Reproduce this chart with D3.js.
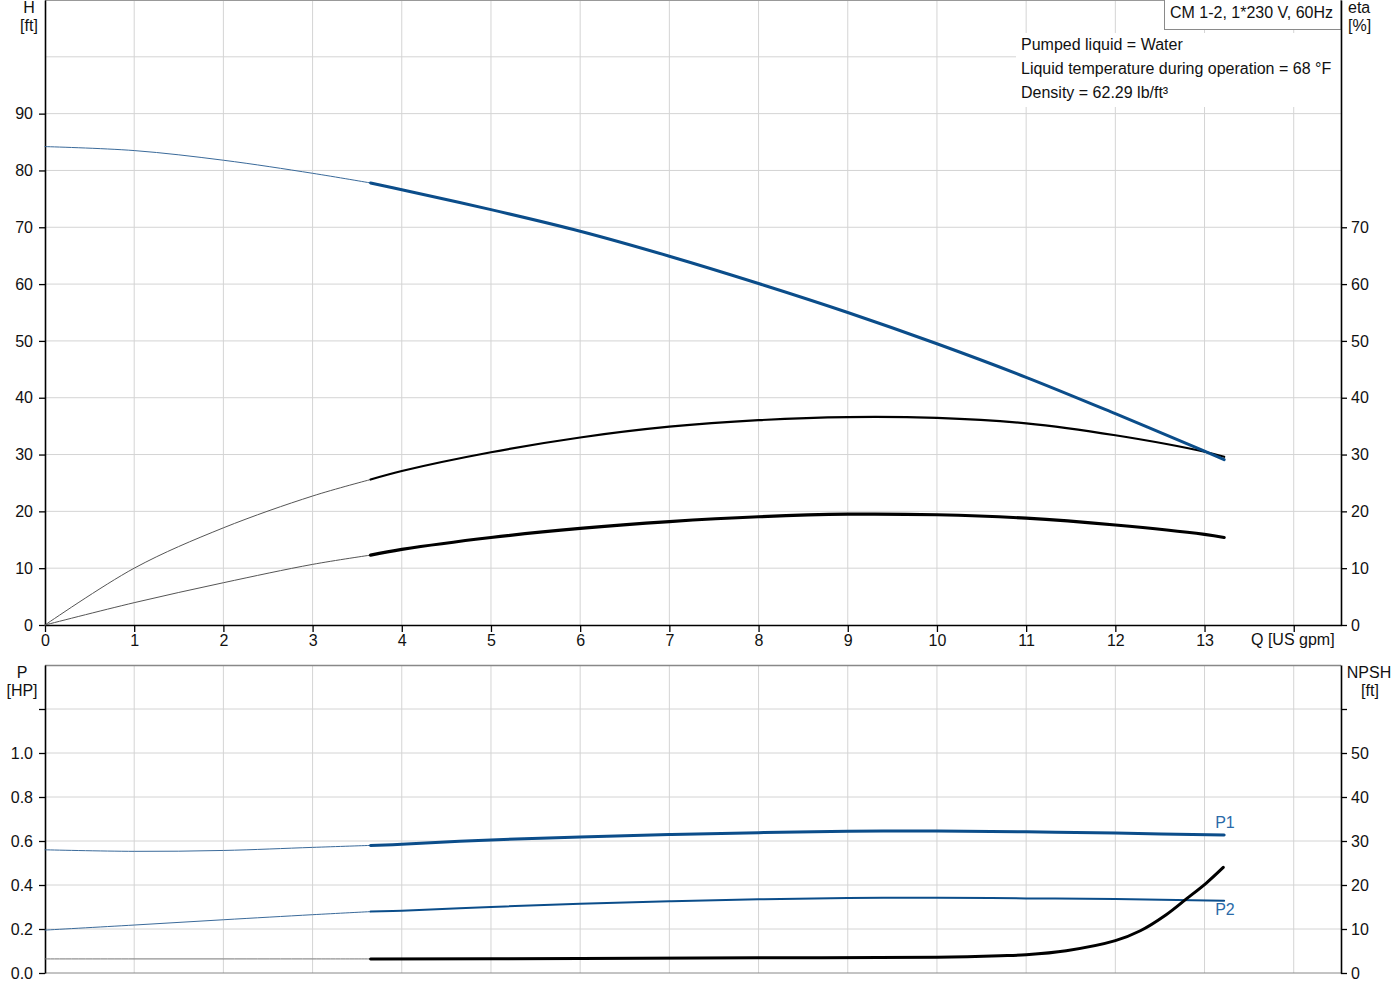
<!DOCTYPE html>
<html>
<head>
<meta charset="utf-8">
<script src="https://cdn.jsdelivr.net/npm/d3@7"></script>
<style>
  html, body { margin: 0; padding: 0; background: #fff; }
  svg { display: block; font-family: "Liberation Sans", Arial, sans-serif; }
</style>
</head>
<body>
<svg id="chart" width="1400" height="1000"></svg>
<script>
// ---------------- DATA ----------------
const qTicks = [0,1,2,3,4,5,6,7,8,9,10,11,12,13];
const qGrid = [1,2,3,4,5,6,7,8,9,10,11,12,13,14];
const hTicks = [0,10,20,30,40,50,60,70,80,90];
const hGrid = [10,20,30,40,50,60,70,80,90,100];
const etaTicks = [0,10,20,30,40,50,60,70];
const pTicks = [0,0.2,0.4,0.6,0.8,1.0];
const pGrid = [0.2,0.4,0.6,0.8,1.0,1.2];
const npshTicks = [0,10,20,30,40,50];

// Head H [ft]
const qThin = [0, 1, 2, 3, 3.65];
const hThin = [84.2, 83.5, 81.8, 79.5, 77.8];
const qThick = [3.65, 4, 5, 6, 7, 8, 9, 10, 11, 12, 13, 13.22];
const hThick = [77.8, 76.6, 73.1, 69.3, 64.9, 60.1, 55.0, 49.5, 43.6, 37.2, 30.6, 29.1];

// Efficiencies eta [%]
const eta1Thin = [0, 10.0, 17.1, 22.7, 25.6];
const eta1Thick = [25.6, 27.1, 30.4, 33.0, 34.9, 36.05, 36.6, 36.45, 35.5, 33.4, 30.5, 29.6];
const eta2Thin = [0, 3.93, 7.44, 10.67, 12.3];
const eta2Thick = [12.3, 13.3, 15.4, 17.0, 18.2, 19.05, 19.5, 19.4, 18.8, 17.6, 15.95, 15.4];

// Power P [HP]
const qPThick = [3.65, 4, 5, 6, 7, 8, 9, 10, 11, 12, 13.22];
const p1Thin = [0.560, 0.553, 0.557, 0.571, 0.580];
const p1Thick = [0.580, 0.585, 0.605, 0.618, 0.629, 0.638, 0.644, 0.645, 0.642, 0.636, 0.627];
const p2Thin = [0.195, 0.218, 0.242, 0.265, 0.279];
const p2Thick = [0.279, 0.283, 0.300, 0.315, 0.326, 0.335, 0.341, 0.342, 0.339, 0.336, 0.328];

// NPSH [ft]
const npshThin = [3.2, 3.2, 3.2, 3.2, 3.2];
const qNThick = [3.65, 6, 8, 10, 10.71, 11, 11.45, 12, 12.28, 12.57, 12.8, 13.02, 13.21];
const npshThick = [3.2, 3.3, 3.45, 3.6, 3.93, 4.16, 5.07, 7.35, 9.6, 13.25, 16.9, 20.45, 24.0];

const infoLines = ["Pumped liquid = Water", "Liquid temperature during operation = 68 °F", "Density = 62.29 lb/ft³"];
const titleText = "CM 1-2, 1*230 V, 60Hz";

// ---------------- LAYOUT ----------------
const L = 45, R = 1341;
const topY0 = 0, topY1 = 625;
const botY0 = 665, botY1 = 973;
const blue = "#0b4d8a";
const gridCol = "#d4d4d4";

const svg = d3.select("#chart");

const x = d3.scaleLinear().domain([0, 14.53]).range([L, R]);
const yH = d3.scaleLinear().domain([0, 110]).range([topY1, topY0]);
const yEta = d3.scaleLinear().domain([0, 110]).range([topY1, topY0]);
const yP = d3.scaleLinear().domain([0, 1.4]).range([botY1, botY0]);
const yN = d3.scaleLinear().domain([0, 70]).range([botY1, botY0]);

// ---------------- GRIDS ----------------
function grid(g, yScale, yVals, y0, y1) {
  g.selectAll("line.v").data(qGrid).enter().append("line")
    .attr("x1", d => x(d)).attr("x2", d => x(d))
    .attr("y1", y0).attr("y2", y1)
    .attr("stroke", gridCol).attr("stroke-width", 1);
  g.selectAll("line.h").data(yVals).enter().append("line")
    .attr("x1", L).attr("x2", R)
    .attr("y1", d => yScale(d)).attr("y2", d => yScale(d))
    .attr("stroke", gridCol).attr("stroke-width", 1);
}
grid(svg.append("g"), yH, hGrid, topY0, topY1);
grid(svg.append("g"), yP, pGrid, botY0, botY1);

// plot borders
svg.append("line").attr("x1", L).attr("x2", R).attr("y1", 0.5).attr("y2", 0.5).attr("stroke", "#999").attr("stroke-width", 1);
svg.append("line").attr("x1", L).attr("x2", R).attr("y1", botY0 + 0.5).attr("y2", botY0 + 0.5).attr("stroke", "#888").attr("stroke-width", 1.5);
svg.append("line").attr("x1", L).attr("x2", R).attr("y1", botY1).attr("y2", botY1).attr("stroke", "#888").attr("stroke-width", 1);

// ---------------- INFO BOXES ----------------
svg.append("rect").attr("x", 1016).attr("y", 33).attr("width", R - 1016).attr("height", 74).attr("fill", "#fff");
infoLines.forEach((t, i) => {
  svg.append("text").attr("x", 1021).attr("y", 50 + i * 24)
    .attr("font-size", 16).attr("fill", "#111").text(t);
});
svg.append("rect").attr("x", 1164.5).attr("y", -1).attr("width", R - 1164.5).attr("height", 30.5)
  .attr("fill", "#fff").attr("stroke", "#8a8a8a").attr("stroke-width", 1);
svg.append("text").attr("x", 1170).attr("y", 18).attr("font-size", 16).attr("fill", "#111").text(titleText);

// ---------------- AXES ----------------
function styleAxis(g) {
  g.selectAll("text").attr("font-size", 16).attr("fill", "#111")
    .attr("font-family", '"Liberation Sans", Arial, sans-serif');
  g.selectAll("line").attr("stroke", "#000").attr("stroke-width", 1.3);
  g.select(".domain").attr("stroke", "#000").attr("stroke-width", 1.6);
}

// top left H axis
svg.append("g").attr("transform", `translate(${L},0)`)
  .call(d3.axisLeft(yH).tickValues(hTicks).tickSize(6).tickPadding(6).tickSizeOuter(0).tickFormat(d3.format("d")))
  .call(styleAxis);
// top right eta axis
svg.append("g").attr("transform", `translate(${R},0)`)
  .call(d3.axisRight(yEta).tickValues(etaTicks).tickSize(6).tickPadding(4).tickSizeOuter(0).tickFormat(d3.format("d")))
  .call(styleAxis);
// top bottom Q axis
svg.append("g").attr("transform", `translate(0,${topY1})`)
  .call(d3.axisBottom(x).tickValues(qTicks).tickSize(7).tickPadding(3).tickSizeOuter(0).tickFormat(d3.format("d")))
  .call(styleAxis);
svg.append("g").attr("transform", `translate(0,${topY1})`)
  .call(d3.axisBottom(x).tickValues([14]).tickSize(7).tickSizeOuter(0).tickFormat(""))
  .call(g => g.select(".domain").remove())
  .call(g => g.selectAll("line").attr("stroke", "#000").attr("stroke-width", 1.3));

// bottom left P axis
svg.append("g").attr("transform", `translate(${L},0)`)
  .call(d3.axisLeft(yP).tickValues(pTicks.concat([1.2])).tickSize(6).tickPadding(6).tickSizeOuter(0)
    .tickFormat(d => d > 1.1 ? "" : d3.format(".1f")(d)))
  .call(styleAxis);
// bottom right NPSH axis
svg.append("g").attr("transform", `translate(${R},0)`)
  .call(d3.axisRight(yN).tickValues(npshTicks.concat([60])).tickSize(6).tickPadding(4).tickSizeOuter(0)
    .tickFormat(d => d > 55 ? "" : d3.format("d")(d)))
  .call(styleAxis);

// axis titles
function label(txt, xx, yy, anchor) {
  svg.append("text").attr("x", xx).attr("y", yy).attr("font-size", 16)
    .attr("text-anchor", anchor).attr("fill", "#111").text(txt);
}
label("H", 29, 13, "middle");
label("[ft]", 29, 31, "middle");
label("eta", 1348, 13, "start");
label("[%]", 1348, 31, "start");
label("Q [US gpm]", 1251, 645, "start");
label("P", 22, 678, "middle");
label("[HP]", 22, 696, "middle");
label("NPSH", 1369, 678, "middle");
label("[ft]", 1370, 696, "middle");

// ---------------- CURVES ----------------
function drawCurve(qs, vals, yScale, color, width) {
  const line = d3.line().x((d, i) => x(qs[i])).y(d => yScale(d)).curve(d3.curveCatmullRom.alpha(0.5));
  svg.append("path").datum(vals).attr("d", line)
    .attr("fill", "none").attr("stroke", color).attr("stroke-width", width)
    .attr("stroke-linecap", "round").attr("stroke-linejoin", "round");
}

// top plot
drawCurve(qThin, eta1Thin, yEta, "#555", 1);
drawCurve(qThin, eta2Thin, yEta, "#555", 1);
drawCurve(qThick, eta1Thick, yEta, "#000", 2.2);
drawCurve(qThick, eta2Thick, yEta, "#000", 3.2);
drawCurve(qThin, hThin, yH, "#3a6a9a", 1);
drawCurve(qThick, hThick, yH, blue, 3);

// bottom plot
drawCurve(qThin, npshThin, yN, "#777", 1);
drawCurve(qThin, p1Thin, yP, "#3a6a9a", 1);
drawCurve(qThin, p2Thin, yP, "#3a6a9a", 1);
drawCurve(qPThick, p1Thick, yP, blue, 3);
drawCurve(qPThick, p2Thick, yP, blue, 2);
drawCurve(qNThick, npshThick, yN, "#000", 3);

// P1 / P2 labels
svg.append("text").attr("x", x(13.22) - 9).attr("y", 828).attr("font-size", 16).attr("fill", "#2a6aa8").text("P1");
svg.append("text").attr("x", x(13.22) - 9).attr("y", 915).attr("font-size", 16).attr("fill", "#2a6aa8").text("P2");
</script>
</body>
</html>
